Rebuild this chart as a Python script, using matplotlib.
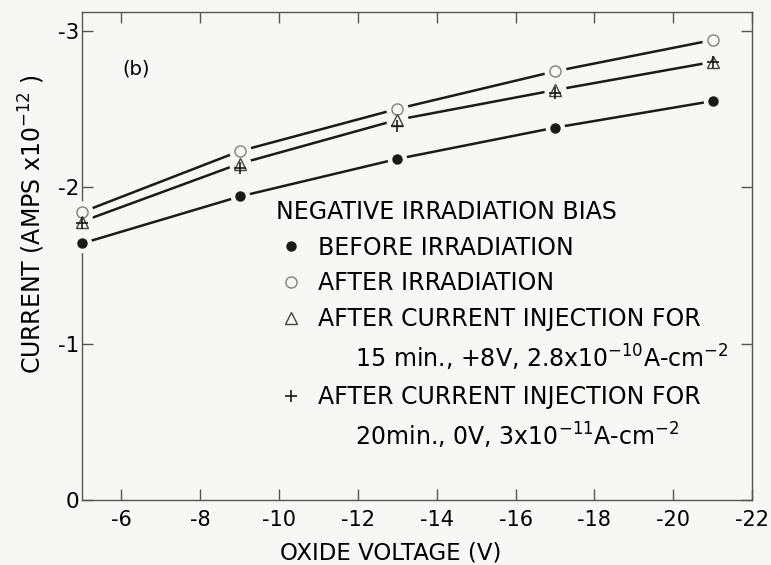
import matplotlib
matplotlib.use("Agg")
import matplotlib.pyplot as plt
from matplotlib.lines import Line2D
import numpy as np

plt.rcParams['font.family'] = ['DejaVu Sans']

# Data (oxide voltage in V, current in units of 1e-12 A)
voltage = [-5, -9, -13, -17, -21]
before_irr = [-1.64, -1.94, -2.18, -2.38, -2.55]
after_irr = [-1.84, -2.23, -2.50, -2.74, -2.94]
after_inj_15 = [-1.78, -2.15, -2.43, -2.62, -2.80]
after_inj_20 = [-1.77, -2.12, -2.39, -2.60, -2.80]

xticks = [-6, -8, -10, -12, -14, -16, -18, -20, -22]
xticklabels = ['-6', '-8', '-10', '-12', '-14', '-16', '-18', '-20', '-22']
yticks = [0, -1, -2, -3]
yticklabels = ['0', '-1', '-2', '-3']

legend_title = 'NEGATIVE IRRADIATION BIAS'
labels = [
    'BEFORE IRRADIATION',
    'AFTER IRRADIATION',
    'AFTER CURRENT INJECTION FOR',
    '     15 min., +8V, 2.8x10$^{-10}$A-cm$^{-2}$',
    'AFTER CURRENT INJECTION FOR',
    '     20min., 0V, 3x10$^{-11}$A-cm$^{-2}$',
]

bg = '#f7f7f5'
ink = '#1a1a1a'

fig = plt.figure(figsize=(7.71, 5.65), dpi=100, facecolor=bg)
ax = fig.add_axes([0.1064, 0.115, 0.869, 0.864], facecolor=bg)

x = np.array(voltage)
# curves
for ys in (before_irr, after_irr, after_inj_15):
    ax.plot(x, ys, color=ink, lw=1.8, zorder=2)

# background-coloured halos to create gaps around markers
for ys, ms in ((before_irr, 13), (after_irr, 15), (after_inj_15, 15), (after_inj_20, 13)):
    ax.plot(x, ys, ls='none', marker='o', ms=ms, mfc=bg, mec=bg, zorder=3, clip_on=False)

h1, = ax.plot(x, before_irr, ls='none', marker='o', ms=6.5, mfc=ink, mec=ink,
              zorder=4, clip_on=False)
h2, = ax.plot(x, after_irr, ls='none', marker='o', ms=8, mfc='none', mec='#808080',
              mew=1.0, zorder=4, clip_on=False)
h3, = ax.plot(x, after_inj_15, ls='none', marker='^', ms=8, mfc='none', mec='#444444',
              mew=1.0, zorder=4, clip_on=False)
h4, = ax.plot(x, after_inj_20, ls='none', marker='+', ms=9, mec=ink,
              mew=1.2, zorder=5, clip_on=False)
blank = Line2D([], [], ls='none', marker=None)

ax.set_xlim(-5, -22)
ax.set_ylim(0, -3.12)
ax.set_xticks(xticks)
ax.set_xticklabels(xticklabels)
ax.set_yticks(yticks)
ax.set_yticklabels(yticklabels)
ax.tick_params(direction='in', length=8, width=1.0, color='#555555',
               top=True, right=True, labelsize=15)
ax.tick_params(axis='x', pad=7)
ax.tick_params(axis='y', pad=2, labelsize=15.5)
for s in ax.spines.values():
    s.set_color('#555555')
    s.set_linewidth(1.0)

ax.set_xlabel('OXIDE VOLTAGE (V)', fontsize=16.5)
ax.xaxis.set_label_coords(0.46, -0.084)
ax.set_ylabel('CURRENT (AMPS x10$^{-12}$ )', fontsize=17)
ax.yaxis.set_label_coords(-0.053, 0.566)

ax.text(0.06, 0.883, '(b)', transform=ax.transAxes, fontsize=14, va='center')

leg = ax.legend([h1, h2, h3, blank, h4, blank], labels,
                loc='upper left', bbox_to_anchor=(0.29, 0.615), frameon=False,
                title=legend_title, alignment='left',
                fontsize=17, title_fontsize=17, handlelength=1.2,
                handletextpad=0.55, labelspacing=0.5, borderpad=0.0,
                borderaxespad=0.0)

fig.savefig('out.png', dpi=100, facecolor=bg)
